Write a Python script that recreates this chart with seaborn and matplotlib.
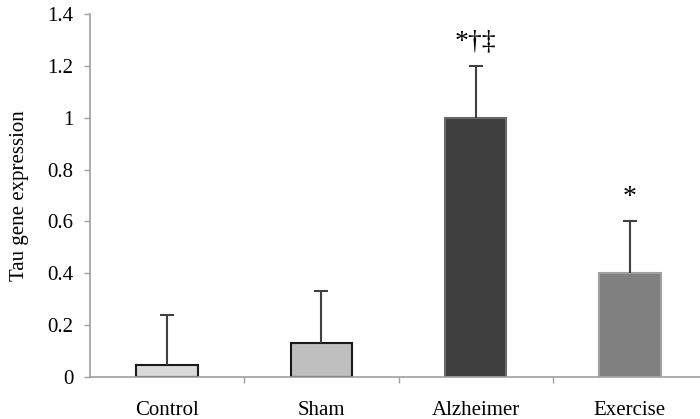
import numpy as np
import pandas as pd
import seaborn as sns
import matplotlib.pyplot as plt

# values
groups = ['Control', 'Sham', 'Alzheimer', 'Exercise']
means = [0.045, 0.13, 1.0, 0.4]
errors = [0.195, 0.2, 0.2, 0.2]
marks = ['', '', '*\u2020\u2021', '*']
colors = ['#d9d9d9', '#bfbfbf', '#404040', '#808080']
edges = ['#1a1a1a', '#1a1a1a', '#6a6a6a', '#a0a0a0']

df = pd.DataFrame({'group': groups, 'mean': means, 'err': errors})

sns.set_style('white')
plt.rcParams['font.family'] = ['Liberation Serif', 'DejaVu Serif']
plt.rcParams['text.color'] = 'black'
plt.rcParams['axes.labelcolor'] = 'black'
plt.rcParams['xtick.labelcolor'] = 'black'
plt.rcParams['ytick.labelcolor'] = 'black'

fig = plt.figure(figsize=(7, 4.19), dpi=100)
ax = fig.add_axes([90 / 700, 42 / 419, 617 / 700, 363 / 419])

sns.barplot(data=df, x='group', y='mean', hue='group', palette=dict(zip(groups, colors)),
            width=0.4, legend=False, ax=ax, linewidth=1.5)
for bar, ec in zip(ax.patches, edges):
    bar.set_edgecolor(ec)

# upper error bars only (drop the lower caps)
eb = ax.errorbar(np.arange(len(groups)), df['mean'], yerr=[np.zeros(len(groups)), df['err']],
                 fmt='none', ecolor='#404040', elinewidth=1.5, capsize=5, capthick=1.5)
eb[1][0].remove()

# significance marks
for i, (m, e, s) in enumerate(zip(means, errors, marks)):
    if s:
        ax.text(i, m + e + 0.14, s, ha='center', va='top', fontsize=20,
                family=['Liberation Serif', 'DejaVu Serif'])

ax.set_xlim(-0.5, 3.5)
ax.set_ylim(0, 1.4)
ax.set_yticks(np.arange(0, 1.41, 0.2))
ax.set_yticklabels(['0', '0.2', '0.4', '0.6', '0.8', '1', '1.2', '1.4'])
ax.set_xticks([0.5, 1.5, 2.5], minor=True)
ax.tick_params(axis='x', which='major', length=0, pad=17, labelsize=15)
ax.tick_params(axis='x', which='minor', length=4, color='#a0a0a0', width=1, direction='out', bottom=True)
ax.tick_params(axis='y', length=4, color='#a0a0a0', width=1, direction='out', left=True, pad=8, labelsize=15)

ax.set_xlabel('')
ax.set_ylabel('Tau gene expression', fontsize=15)
ax.yaxis.set_label_coords(-0.099, 0.5)

sns.despine(ax=ax)
for sp in ['left', 'bottom']:
    ax.spines[sp].set_color('#a0a0a0')
    ax.spines[sp].set_linewidth(1.2)

fig.savefig('out.png', dpi=100)
